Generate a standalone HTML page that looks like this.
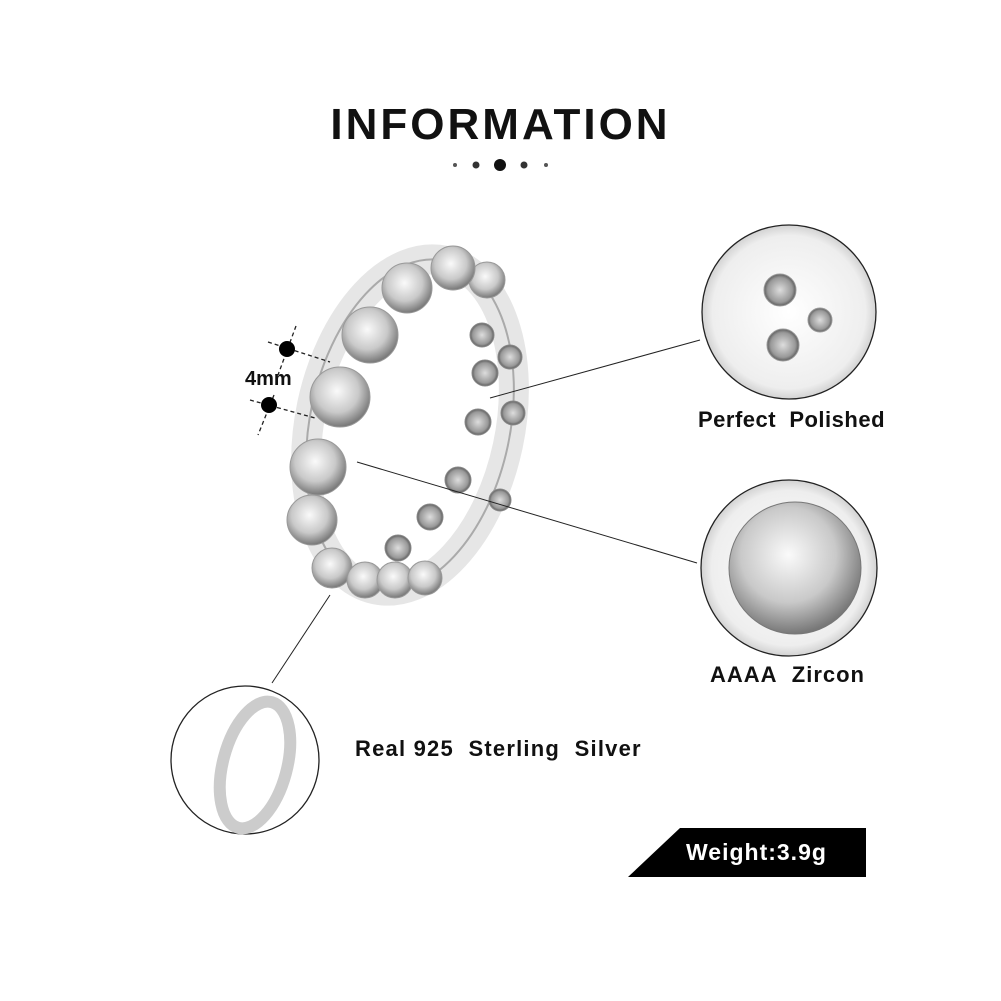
<!DOCTYPE html>
<html><head><style>
html,body{margin:0;padding:0;background:#fff;}
body{width:1001px;height:1001px;position:relative;overflow:hidden;font-family:"Liberation Sans",sans-serif;}
.t{position:absolute;font-weight:bold;color:#111;white-space:nowrap;}
</style></head><body>
<div class="t" style="left:0;width:1001px;text-align:center;top:100px;font-size:44px;letter-spacing:3px;">INFORMATION</div>
<svg width="1001" height="1001" style="position:absolute;left:0;top:0">
<defs>
<radialGradient id="st" cx="45%" cy="40%" r="60%"><stop offset="0" stop-color="#fafafa"/><stop offset="0.6" stop-color="#c9c9c9"/><stop offset="1" stop-color="#777"/></radialGradient>
<radialGradient id="ho" cx="50%" cy="50%" r="55%"><stop offset="0" stop-color="#ddd"/><stop offset="0.7" stop-color="#999"/><stop offset="1" stop-color="#444"/></radialGradient>
<radialGradient id="bg" cx="50%" cy="50%" r="55%"><stop offset="0" stop-color="#fff"/><stop offset="0.8" stop-color="#eee"/><stop offset="1" stop-color="#bbb"/></radialGradient>
</defs>
<circle cx="455" cy="165" r="2" fill="#555"/><circle cx="476" cy="165" r="3.5" fill="#333"/><circle cx="500" cy="165" r="6" fill="#111"/><circle cx="524" cy="165" r="3.5" fill="#333"/><circle cx="546" cy="165" r="2" fill="#555"/>
<ellipse cx="410" cy="425" rx="100" ry="168" transform="rotate(12 410 425)" fill="none" stroke="#e6e6e6" stroke-width="30"/>
<ellipse cx="410" cy="425" rx="100" ry="168" transform="rotate(12 410 425)" fill="none" stroke="#aaa" stroke-width="2"/>
<g fill="url(#ho)" stroke="#888">
<circle cx="510" cy="357" r="12"/><circle cx="513" cy="413" r="12"/><circle cx="500" cy="500" r="11"/>
<circle cx="482" cy="335" r="12"/><circle cx="485" cy="373" r="13"/><circle cx="478" cy="422" r="13"/><circle cx="458" cy="480" r="13"/><circle cx="430" cy="517" r="13"/><circle cx="398" cy="548" r="13"/>
</g>
<g fill="url(#st)" stroke="#999">
<circle cx="487" cy="280" r="18"/><circle cx="453" cy="268" r="22"/><circle cx="407" cy="288" r="25"/><circle cx="370" cy="335" r="28"/><circle cx="340" cy="397" r="30"/><circle cx="318" cy="467" r="28"/><circle cx="312" cy="520" r="25"/><circle cx="332" cy="568" r="20"/><circle cx="365" cy="580" r="18"/><circle cx="395" cy="580" r="18"/><circle cx="425" cy="578" r="17"/>
</g>
<g stroke="#222" stroke-dasharray="4,3" stroke-width="1.3" fill="none">
<line x1="268" y1="342" x2="330" y2="362"/><line x1="250" y1="400" x2="315" y2="418"/>
<line x1="296" y1="326" x2="278" y2="375"/><line x1="274" y1="395" x2="258" y2="435"/>
</g>
<circle cx="287" cy="349" r="8" fill="#000"/><circle cx="269" cy="405" r="8" fill="#000"/>
<g stroke="#222" stroke-width="1">
<line x1="490" y1="398" x2="700" y2="340"/><line x1="357" y1="462" x2="697" y2="563"/><line x1="330" y1="595" x2="272" y2="683"/>
</g>
<circle cx="789" cy="312" r="87" fill="url(#bg)" stroke="#222" stroke-width="1.3"/>
<g fill="url(#ho)" stroke="#999"><circle cx="780" cy="290" r="16"/><circle cx="783" cy="345" r="16"/><circle cx="820" cy="320" r="12"/></g>
<circle cx="789" cy="568" r="88" fill="url(#bg)" stroke="#222" stroke-width="1.3"/>
<circle cx="795" cy="568" r="66" fill="url(#st)" stroke="#777"/>
<circle cx="245" cy="760" r="74" fill="#fff" stroke="#222" stroke-width="1.3"/>
<ellipse cx="255" cy="765" rx="32" ry="65" transform="rotate(15 255 765)" fill="none" stroke="#ccc" stroke-width="12"/>
<polygon points="680,828 866,828 866,877 628,877" fill="#000"/>
</svg>
<div class="t" style="left:245px;top:368px;font-size:20px;">4mm</div>
<div class="t" style="left:698px;top:407px;font-size:22px;letter-spacing:0.5px;">Perfect&nbsp; Polished</div>
<div class="t" style="left:710px;top:662px;font-size:22px;letter-spacing:1px;">AAAA&nbsp; Zircon</div>
<div class="t" style="left:355px;top:736px;font-size:22px;letter-spacing:1.2px;">Real 925&nbsp; Sterling&nbsp; Silver</div>
<div class="t" style="left:686px;top:839px;font-size:23px;color:#fff;letter-spacing:1px;">Weight:3.9g</div>
</body></html>
